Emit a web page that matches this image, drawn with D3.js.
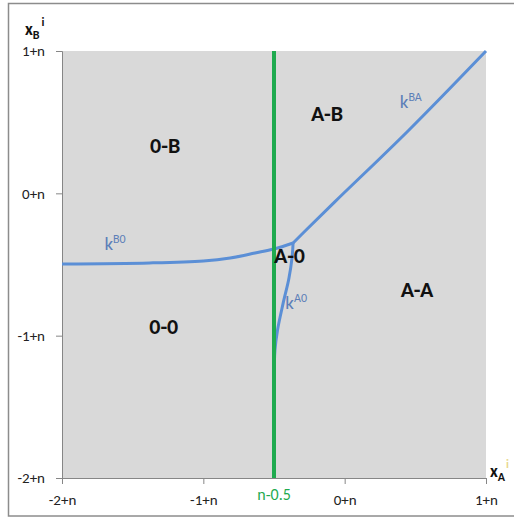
<!DOCTYPE html>
<html><head><meta charset="utf-8">
<script src="https://cdn.jsdelivr.net/npm/d3@7"></script>
<style>body{margin:0;background:#fff}svg{display:block}</style>
</head><body>
<script>
// Data
const xTicks = [-2, -1, 0, 1];
const xTickLabels = ["-2+n", "-1+n", "0+n", "1+n"];
const yTicks = [-2, -1, 0, 1];
const yTickLabels = ["-2+n", "-1+n", "0+n", "1+n"];
const greenX = -0.5;
const greenLabel = "n-0.5";
const kB0 = [[-2,-0.496],[-1.38,-0.489],[-1.0,-0.475],[-0.81,-0.454],[-0.634,-0.419],[-0.5,-0.391],[-0.365,-0.349]];
const kBA = [[-0.365,-0.349],[-0.28,-0.265],[-0.07,-0.06],[0.45,0.44],[1,1]];
const kA0 = [[-0.365,-0.349],[-0.372,-0.45],[-0.395,-0.60],[-0.436,-0.775],[-0.475,-0.96],[-0.493,-1.10],[-0.5,-1.31],[-0.5,-2]];
const regionNames = ["0-B","A-B","A-0","A-A","0-0"];
const regionPos = [[-1.27,0.32],[-0.125,0.543],[-0.39,-0.45],[0.512,-0.693],[-1.28,-0.95]];
const curveNames = ["B0","A0","BA"];
const curvePos = [[-1.7,-0.40],[-0.42,-0.81],[0.39,0.60]];

const W = 514, H = 517;
const svg = d3.select("body").append("svg").attr("width", W).attr("height", H);
const fontMain = "Carlito, Lato, 'Open Sans', sans-serif";

// outer frame
svg.append("rect").attr("x", 8.5).attr("y", 3.5).attr("width", 520).attr("height", 512.5)
  .attr("fill", "#fff").attr("stroke", "#8c8c8c").attr("stroke-width", 1.5);

const x = d3.scaleLinear().domain([-2, 1]).range([62, 486]);
const y = d3.scaleLinear().domain([-2, 1]).range([478, 51]);

// plot area
svg.append("rect").attr("x", x(-2)).attr("y", y(1)).attr("width", x(1)-x(-2)).attr("height", y(-2)-y(1))
  .attr("fill", "#d9d9d9");

// axes
const xAxis = d3.axisBottom(x).tickValues(xTicks).tickSize(6).tickFormat((d,i)=>xTickLabels[i]);
const gx = svg.append("g").attr("transform", `translate(0,${y(-2)})`).call(xAxis);
gx.select(".domain").attr("stroke", "#868686");
gx.selectAll(".tick line").attr("stroke", "#868686");
gx.selectAll(".tick text").attr("font-family", fontMain).attr("font-size", 15).attr("fill", "#222").attr("y", 13).attr("dy", "0.9em");

const yAxis = d3.axisLeft(y).tickValues(yTicks).tickSize(6).tickFormat((d,i)=>yTickLabels[i]);
const gy = svg.append("g").attr("transform", `translate(${x(-2)},0)`).call(yAxis);
gy.select(".domain").attr("stroke", "#868686");
gy.selectAll(".tick line").attr("stroke", "#868686");
gy.selectAll(".tick text").attr("font-family", fontMain).attr("font-size", 15).attr("fill", "#222").attr("x", -17);

// curves
const lineY = d3.line().x(d=>x(d[0])).y(d=>y(d[1])).curve(d3.curveCatmullRom.alpha(0.5));
const blue = "#5b8fd6";
[kB0, kBA, kA0].forEach(c=>{
  svg.append("path").attr("d", lineY(c)).attr("fill","none").attr("stroke",blue).attr("stroke-width",3);
});

// green line
svg.append("line").attr("x1", x(greenX)).attr("x2", x(greenX)).attr("y1", y(1)).attr("y2", y(-2))
  .attr("stroke", "#1faa4f").attr("stroke-width", 4);
svg.append("text").attr("x", x(greenX)).attr("y", 500).attr("text-anchor","middle")
  .attr("font-family", fontMain).attr("font-size", 16).attr("fill", "#1faa4f").text(greenLabel);

// region labels
svg.selectAll("text.region").data(regionNames).enter().append("text").attr("class","region")
  .attr("x",(d,i)=>x(regionPos[i][0])).attr("y",(d,i)=>y(regionPos[i][1]))
  .attr("text-anchor","middle").attr("dominant-baseline","middle")
  .attr("font-family", fontMain).attr("font-weight","bold").attr("font-size",22).attr("fill","#111")
  .text(d=>d);

// curve labels
curveNames.forEach((n,i)=>{
  const t = svg.append("text").attr("x", x(curvePos[i][0])).attr("y", y(curvePos[i][1]))
    .attr("font-family", fontMain).attr("fill", "#5d7fb8");
  t.append("tspan").attr("font-size", 19).text("k");
  t.append("tspan").attr("font-size", 12).attr("dy", -7).text(n);
});

// axis titles
const tB = svg.append("text").attr("x", 25).attr("y", 35).attr("font-family", fontMain).attr("font-weight","bold").attr("fill","#111");
tB.append("tspan").attr("font-size", 17).text("x");
tB.append("tspan").attr("font-size", 12).attr("dy", 4).text("B");
tB.append("tspan").attr("font-size", 12).attr("dy", -13).attr("dx", 2).text("i");

const tA = svg.append("text").attr("x", 490).attr("y", 477).attr("font-family", fontMain).attr("font-weight","bold").attr("fill","#111");
tA.append("tspan").attr("font-size", 17).text("x");
tA.append("tspan").attr("font-size", 12).attr("dy", 4).text("A");
tA.append("tspan").attr("font-size", 12).attr("dy", -13).attr("dx", 1).attr("fill","#e8d890").text("i");
</script>
</body></html>
